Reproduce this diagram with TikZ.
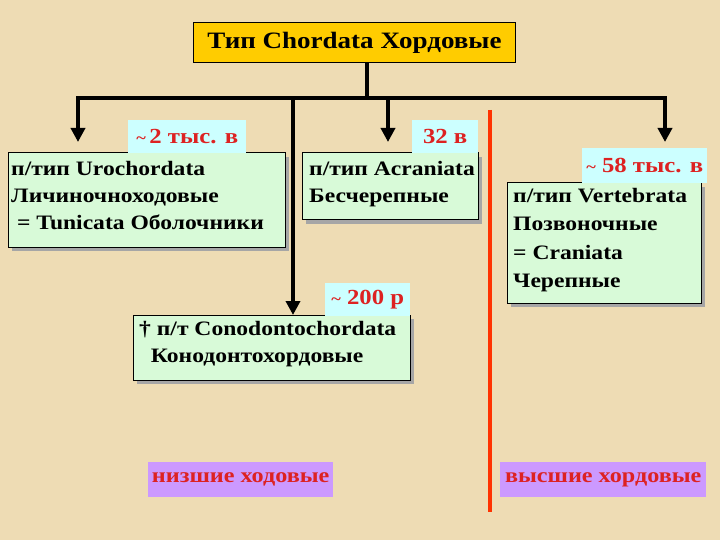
\documentclass[tikz,border=0pt]{standalone}
\usepackage{fontspec}
\setmainfont{Liberation Serif}[FakeStretch=1.15]
\usetikzlibrary{arrows.meta}
\definecolor{bg}{HTML}{EEDCB4}
\definecolor{grn}{HTML}{D8FAD8}
\definecolor{lbl}{HTML}{CCFFFF}
\definecolor{ttl}{HTML}{FFCC00}
\definecolor{vio}{HTML}{CC99FF}
\definecolor{rd}{HTML}{DD2222}
\definecolor{rl}{HTML}{FF3300}
\newcommand{\tld}{{\fontsize{16}{16}\selectfont\string~}}
\tikzset{
 gbox/.style={draw=black,line width=1pt,fill=grn,anchor=north west,inner sep=0pt,outer sep=0pt},
 gtxt/.style={anchor=north west,align=left,font=\bfseries\fontsize{20.5}{27}\selectfont,inner sep=0pt},
 lab/.style={fill=lbl,text=rd,font=\bfseries\fontsize{21.5}{24}\selectfont,inner sep=0pt,anchor=north west},
 vbox/.style={fill=vio,text=rd,font=\bfseries\fontsize{21}{22}\selectfont,inner sep=0pt,anchor=north west},
 conn/.style={line width=4.5pt},
 arr/.style={line width=4.5pt,-{Triangle[length=14pt,width=14pt]}}
}
\begin{document}
\begin{tikzpicture}[x=1pt,y=-1pt]
\fill[bg] (0,0) rectangle (720,540);
\useasboundingbox (0,0) rectangle (720,540);
% title
\node[draw,line width=1pt,fill=ttl,anchor=north west,minimum width=322pt,minimum height=40pt,inner sep=0pt,font=\bfseries\fontsize{23.5}{25}\selectfont] (t) at (193,22) {Тип Chordata Хордовые};
% boxes
\fill[black!35] (12,157) rectangle (289,251);
\node[gbox,minimum width=277pt,minimum height=94pt] (b1) at (8,153) {};
\node[gtxt] (b1t) at (11,161) {п/тип Urochordata\\Личиночноходовые\\\ = Tunicata Оболочники};
\fill[black!35] (306,157) rectangle (482,224);
\node[gbox,minimum width=176pt,minimum height=67pt] (b2) at (302,153) {};
\node[gtxt] (b2t) at (309,161) {п/тип Acraniata\\Бесчерепные};
\fill[black!35] (511,187) rectangle (705,307);
\node[gbox,minimum width=194pt,minimum height=120pt] (b3) at (507,183) {};
\node[gtxt,font=\bfseries\fontsize{20.5}{28.5}\selectfont] (b3t) at (513,188) {п/тип Vertebrata\\Позвоночные\\= Craniata\\Черепные};
\fill[black!35] (137,319) rectangle (414,384);
\node[gbox,minimum width=277pt,minimum height=65pt] (b4) at (133,315) {};
\node[gtxt] (b4t) at (139,321) {† п/т Conodontochordata\\\ \ Конодонтохордовые};
% labels
\node[lab,minimum width=118pt,minimum height=33pt,anchor=north west] (l1) at (128,120) {\tld\,2 тыс. в};
\node[lab,minimum width=66pt,minimum height=33pt] (l2) at (412,120) {32 в};
\node[lab,minimum width=125pt,minimum height=35pt] (l3) at (582,148) {\tld\ 58 тыс. в};
\node[lab,minimum width=85pt,minimum height=33pt] (l4) at (325,283) {\tld\ 200 р};
\node[vbox,minimum width=185pt,minimum height=35pt] (v1) at (148,462) {низшие ходовые};
\node[vbox,minimum width=206pt,minimum height=35pt] (v2) at (500,462) {высшие хордовые};
% connectors
\coordinate (j) at (367,98);
\coordinate (hl) at (78,98);
\coordinate (hr) at (665,98);
\coordinate (hm) at (293,98);
\coordinate (hc) at (388,98);
\draw[conn] (t.south -| j) -- (j);
\draw[conn] ([xshift=-2pt]hl) -- ([xshift=2pt]hr);
\draw[arr] (hl) -- (78,142);
\draw[arr] (hc) -- (388,142);
\draw[arr] (hr) -- (665,142);
\draw[arr] (hm) -- (hm |- b4.north);
\coordinate (r1) at (490,110);
\coordinate (r2) at (490,512);
\draw[rl,line width=4pt] (r1) -- (r2);
\end{tikzpicture}
\end{document}
